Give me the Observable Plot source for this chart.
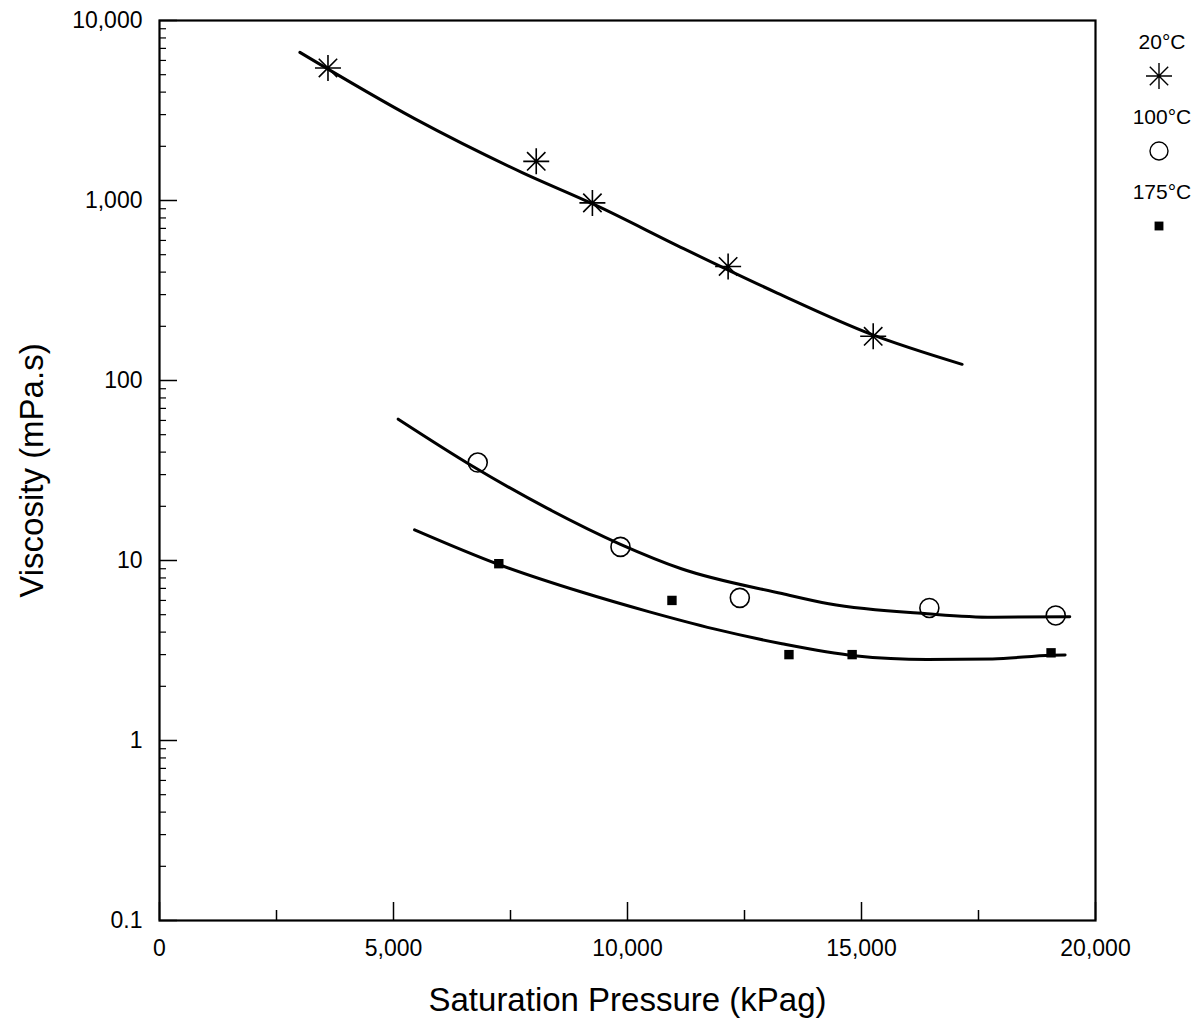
<!DOCTYPE html>
<html>
<head>
<meta charset="utf-8">
<script src="https://cdn.jsdelivr.net/npm/d3@7"></script>
<script src="https://cdn.jsdelivr.net/npm/@observablehq/plot@0.6"></script>
<style>
  html, body { margin: 0; padding: 0; background: #fff; }
  #chart { width: 1199px; height: 1022px; }
</style>
</head>
<body>
<div id="chart"></div>
<script>
// ---- Data ----
const series = ["20°C", "100°C", "175°C"];

// measured points
const t20X = [3600, 8050, 9250, 12150, 15250];
const t20Y = [5450, 1650, 970, 430, 176];
const t100X = [6800, 9850, 12400, 16450, 19150];
const t100Y = [35, 11.9, 6.2, 5.45, 4.95];
const t175X = [7250, 10950, 13450, 14800, 19050];
const t175Y = [9.6, 6.0, 3.0, 3.0, 3.07];

// fitted curves
const fit20X = [3000, 5450, 7750, 9250, 11200, 13200, 15200, 17150];
const fit20Y = [6650, 2850, 1430, 960, 540, 306, 181, 123];
const fit100X = [5100, 6700, 8300, 9850, 11150, 13300, 14300, 16400, 17800, 19450];
const fit100Y = [61, 33.3, 19.4, 12.3, 9.0, 6.55, 5.75, 5.06, 4.84, 4.87];
const fit175X = [5450, 7250, 9000, 10450, 11850, 13300, 14850, 16400, 17800, 19050, 19350];
const fit175Y = [14.8, 9.5, 6.7, 5.2, 4.17, 3.45, 2.96, 2.82, 2.84, 2.98, 2.99];

// axes
const xMajorTicks = [0, 5000, 10000, 15000, 20000];
const xMinorTicks = [2500, 7500, 12500, 17500];
const yMajorTicks = [0.1, 1, 10, 100, 1000, 10000];
const yMinorTicks = [0.1, 1, 10, 100, 1000].flatMap(d => [2,3,4,5,6,7,8,9].map(k => +(d * k).toPrecision(3)));
const xTitle = "Saturation Pressure (kPag)";
const yTitle = "Viscosity (mPa.s)";

// ---- Build tables ----
const zip = (xs, ys) => xs.map((x, i) => ({x, y: ys[i]}));
const pts20 = zip(t20X, t20Y), pts100 = zip(t100X, t100Y), pts175 = zip(t175X, t175Y);
const fits = [zip(fit20X, fit20Y), zip(fit100X, fit100Y), zip(fit175X, fit175Y)];

// 8-armed asterisk symbol
const star8 = {
  draw(ctx, size) {
    const r = Math.sqrt(size / Math.PI);
    const d = r * Math.SQRT1_2;
    ctx.moveTo(-r, 0); ctx.lineTo(r, 0);
    ctx.moveTo(0, -r); ctx.lineTo(0, r);
    ctx.moveTo(-d, -d); ctx.lineTo(d, d);
    ctx.moveTo(-d, d); ctx.lineTo(d, -d);
  }
};

const W = 1199, H = 1022;
const mL = 159, mR = 104, mT = 20, mB = 102;
const FW = W - mL - mR, FH = H - mT - mB;
const FONT = "'Liberation Sans', Arial, sans-serif";

const plot = Plot.plot({
  width: W, height: H,
  marginLeft: mL, marginRight: mR, marginTop: mT, marginBottom: mB,
  style: {fontFamily: FONT, fontSize: "23px", color: "#000", background: "#fff"},
  x: {domain: [0, 20000], ticks: xMajorTicks, tickFormat: d3.format(","), tickSize: 0, tickPadding: 19, label: null},
  y: {type: "log", domain: [0.1, 10000], ticks: yMajorTicks, tickFormat: d3.format(","), tickSize: 0, tickPadding: 17, label: null},
  marks: [
    // inward ticks
    Plot.tickX(xMajorTicks, {x: d => d, insetTop: FH - 18, stroke: "#000", strokeWidth: 1.5}),
    Plot.tickX(xMinorTicks, {x: d => d, insetTop: FH - 10, stroke: "#000", strokeWidth: 1.5}),
    Plot.tickY(yMajorTicks, {y: d => d, insetRight: FW - 18, stroke: "#000", strokeWidth: 1.5}),
    Plot.tickY(yMinorTicks, {y: d => d, insetRight: FW - 7, stroke: "#000", strokeWidth: 1.2}),
    Plot.frame({stroke: "#000", strokeWidth: 2.2}),
    // fitted curves
    ...fits.map(f => Plot.line(f, {x: "x", y: "y", curve: "monotone-x", stroke: "#000", strokeWidth: 3})),
    // data points
    Plot.dot(pts20, {x: "x", y: "y", symbol: star8, r: 13, stroke: "#000", strokeWidth: 1.6}),
    Plot.dot(pts100, {x: "x", y: "y", symbol: "circle", r: 9.5, stroke: "#000", fill: "none", strokeWidth: 1.6}),
    Plot.dot(pts175, {x: "x", y: "y", symbol: "square", r: 5.3, fill: "#000", stroke: "none"}),
    // axis titles
    Plot.text([xTitle], {frameAnchor: "bottom", textAnchor: "middle", lineAnchor: "middle", dy: 80, fontSize: 33, fill: "#000"}),
    Plot.text([yTitle], {frameAnchor: "left", textAnchor: "middle", lineAnchor: "middle", dx: -127, rotate: -90, fontSize: 33, fill: "#000"})
  ]
});

// legend (inside the same SVG, right margin)
const g = d3.select(plot).append("g")
  .attr("font-family", FONT)
  .attr("font-size", 21)
  .attr("text-anchor", "middle");
const legendSymbols = [star8, d3.symbolCircle, d3.symbolSquare];
const legendSizes = [13, 9, 5];
series.forEach((s, i) => {
  const cy = 42 + i * 75;
  g.append("text").attr("x", 1162).attr("y", cy).attr("dy", "0.35em").text(s);
  const sym = g.append("path")
    .attr("transform", `translate(1159,${cy + 34})`)
    .attr("d", d3.symbol(legendSymbols[i], Math.PI * legendSizes[i] ** 2)());
  if (i < 2) sym.attr("stroke", "#000").attr("stroke-width", 1.4).attr("fill", "none");
  else sym.attr("fill", "#000");
});

document.getElementById("chart").appendChild(plot);
</script>
</body>
</html>
